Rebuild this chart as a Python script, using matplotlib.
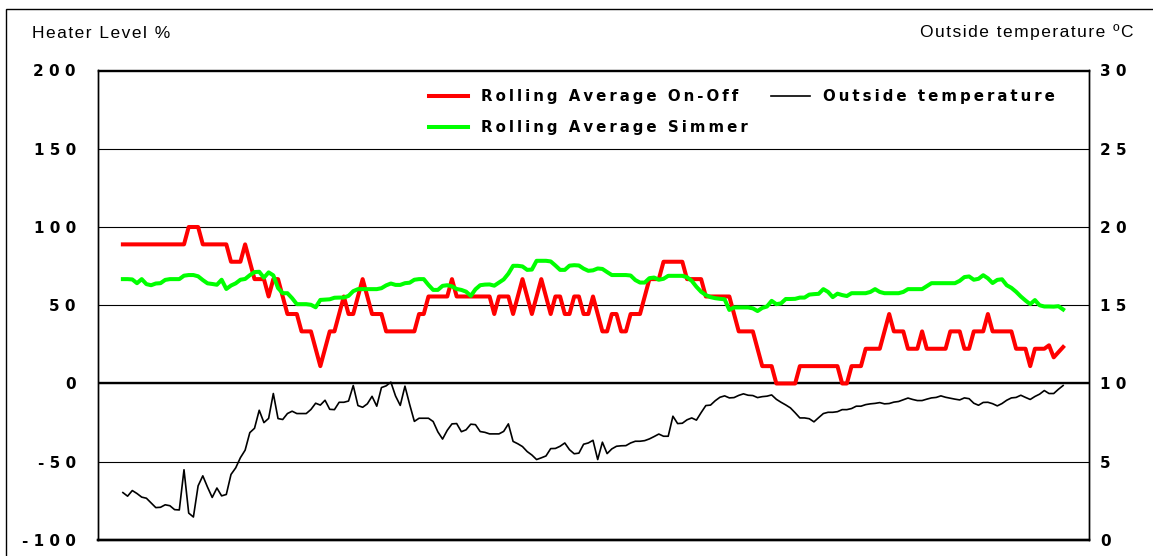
import numpy as np
import matplotlib
matplotlib.use('Agg')
import matplotlib.pyplot as plt
from matplotlib.patches import Rectangle
from matplotlib.lines import Line2D

# rolling average heater level, on-off control (%)
on_off = [
    88.9, 88.9, 88.9, 88.9, 88.9, 88.9, 88.9, 88.9, 88.9, 88.9,
    88.9, 88.9, 88.9, 88.9, 100, 100, 100, 88.9, 88.9, 88.9,
    88.9, 88.9, 88.9, 77.8, 77.8, 77.8, 88.9, 77.8, 66.7, 66.7,
    66.7, 55.6, 66.7, 66.7, 55.6, 44.4, 44.4, 44.4, 33.3, 33.3,
    33.3, 22.2, 11.1, 22.2, 33.3, 33.3, 44.4, 55.6, 44.4, 44.4,
    55.6, 66.7, 55.6, 44.4, 44.4, 44.4, 33.3, 33.3, 33.3, 33.3,
    33.3, 33.3, 33.3, 44.4, 44.4, 55.6, 55.6, 55.6, 55.6, 55.6,
    66.7, 55.6, 55.6, 55.6, 55.6, 55.6, 55.6, 55.6, 55.6, 44.4,
    55.6, 55.6, 55.6, 44.4, 55.6, 66.7, 55.6, 44.4, 55.6, 66.7,
    55.6, 44.4, 55.6, 55.6, 44.4, 44.4, 55.6, 55.6, 44.4, 44.4,
    55.6, 44.4, 33.3, 33.3, 44.4, 44.4, 33.3, 33.3, 44.4, 44.4,
    44.4, 55.6, 66.7, 66.7, 66.7, 77.8, 77.8, 77.8, 77.8, 77.8,
    66.7, 66.7, 66.7, 66.7, 55.6, 55.6, 55.6, 55.6, 55.6, 55.6,
    44.4, 33.3, 33.3, 33.3, 33.3, 22.2, 11.1, 11.1, 11.1, 0,
    0, 0, 0, 0, 11.1, 11.1, 11.1, 11.1, 11.1, 11.1,
    11.1, 11.1, 11.1, 0, 0, 11.1, 11.1, 11.1, 22.2, 22.2,
    22.2, 22.2, 33.3, 44.4, 33.3, 33.3, 33.3, 22.2, 22.2, 22.2,
    33.3, 22.2, 22.2, 22.2, 22.2, 22.2, 33.3, 33.3, 33.3, 22.2,
    22.2, 33.3, 33.3, 33.3, 44.4, 33.3, 33.3, 33.3, 33.3, 33.3,
    22.2, 22.2, 22.2, 11.1, 22.2, 22.2, 22.2, 24.4, 16.7, 20.0,
    23.3,
]

# rolling average heater level, simmer control (%)
simmer = [
    66.7, 66.7, 66.5, 64.1, 66.7, 63.5, 62.8, 63.9, 64.1, 66.2,
    66.7, 66.7, 66.7, 68.9, 69.3, 69.3, 68.5, 66.1, 64.0, 63.6,
    63.1, 66.3, 60.4, 62.6, 64.0, 66.3, 66.8, 69.2, 71.2, 71.4,
    67.6, 71.0, 69.1, 61.0, 57.7, 57.7, 54.5, 50.7, 50.7, 50.7,
    50.3, 48.7, 53.4, 53.6, 53.8, 54.8, 54.9, 54.9, 56.0, 59.0,
    60.3, 60.3, 60.3, 60.3, 60.3, 60.9, 62.7, 63.9, 63.0, 63.0,
    64.1, 64.4, 66.3, 66.7, 66.7, 63.0, 59.8, 59.8, 62.4, 62.8,
    62.1, 60.4, 59.8, 58.7, 56.0, 60.2, 62.8, 63.2, 63.3, 62.5,
    64.5, 66.5, 70.2, 75.2, 75.2, 74.8, 72.6, 72.8, 78.4, 78.4,
    78.4, 78.0, 75.4, 72.6, 72.6, 75.3, 75.6, 75.4, 73.4, 72.0,
    72.3, 73.5, 73.2, 71.2, 69.3, 69.3, 69.3, 69.3, 69.0, 66.1,
    64.5, 64.5, 67.3, 67.7, 66.3, 66.9, 68.8, 68.8, 68.8, 68.8,
    67.9, 65.6, 61.8, 58.6, 56.5, 55.2, 54.5, 54.1, 53.8, 47.0,
    48.6, 48.6, 48.6, 48.6, 48.0, 46.3, 48.3, 49.2, 52.8, 50.7,
    51.2, 54.0, 54.0, 54.1, 54.9, 54.9, 56.8, 57.1, 57.3, 60.3,
    58.5, 55.2, 57.4, 56.5, 55.9, 57.7, 57.7, 57.7, 57.7, 58.5,
    60.3, 58.5, 57.7, 57.7, 57.7, 57.7, 58.5, 60.3, 60.3, 60.3,
    60.3, 62.2, 64.1, 64.1, 64.1, 64.1, 64.1, 64.1, 65.6, 68.0,
    68.4, 66.3, 66.9, 69.2, 67.2, 64.2, 66.2, 66.6, 62.8, 61.1,
    58.6, 55.6, 53.0, 50.7, 53.3, 50.0, 49.2, 49.2, 49.1, 49.4,
    47.3,
]

# outside temperature (deg C)
outside = [
    3.03, 2.80, 3.16, 2.97, 2.74, 2.67, 2.37, 2.07, 2.09, 2.25,
    2.19, 1.94, 1.92, 4.49, 1.72, 1.47, 3.46, 4.10, 3.38, 2.72,
    3.32, 2.82, 2.91, 4.19, 4.61, 5.26, 5.74, 6.86, 7.14, 8.29,
    7.50, 7.77, 9.36, 7.76, 7.70, 8.08, 8.23, 8.08, 8.08, 8.08,
    8.34, 8.74, 8.62, 8.93, 8.35, 8.33, 8.80, 8.80, 8.88, 9.87,
    8.59, 8.48, 8.70, 9.18, 8.55, 9.74, 9.85, 10.09, 9.20, 8.60,
    9.83, 8.66, 7.58, 7.78, 7.78, 7.78, 7.57, 6.91, 6.45, 7.01,
    7.42, 7.44, 6.92, 7.04, 7.40, 7.37, 6.93, 6.88, 6.78, 6.78,
    6.78, 6.94, 7.42, 6.30, 6.15, 5.97, 5.65, 5.43, 5.14, 5.25,
    5.37, 5.84, 5.85, 5.99, 6.20, 5.77, 5.51, 5.55, 6.12, 6.20,
    6.37, 5.14, 6.25, 5.52, 5.82, 5.99, 6.02, 6.03, 6.20, 6.31,
    6.31, 6.35, 6.46, 6.61, 6.77, 6.63, 6.63, 7.91, 7.44, 7.46,
    7.68, 7.80, 7.66, 8.14, 8.59, 8.62, 8.90, 9.12, 9.21, 9.08,
    9.10, 9.24, 9.34, 9.25, 9.23, 9.10, 9.16, 9.19, 9.27, 8.99,
    8.80, 8.63, 8.44, 8.13, 7.80, 7.80, 7.75, 7.55, 7.82, 8.08,
    8.16, 8.16, 8.20, 8.33, 8.33, 8.40, 8.55, 8.55, 8.65, 8.70,
    8.73, 8.78, 8.70, 8.72, 8.81, 8.85, 8.96, 9.07, 8.98, 8.91,
    8.91, 9.00, 9.08, 9.11, 9.21, 9.12, 9.06, 9.00, 8.95, 9.08,
    9.03, 8.74, 8.61, 8.79, 8.80, 8.71, 8.57, 8.72, 8.93, 9.08,
    9.11, 9.25, 9.11, 8.98, 9.17, 9.32, 9.55, 9.36, 9.36, 9.63,
    9.87,
]

left_ticks = [-100, -50, 0, 50, 100, 150, 200]
right_ticks = [0, 5, 10, 15, 20, 25, 30]


def spaced(text, gap='\u2009'):
    # the original chart uses wide letter spacing
    return gap.join(text)


W, H = 1153, 556
fig = plt.figure(figsize=(W / 100, H / 100), dpi=100)

# outer chart frame (runs off the right and bottom of the image)
fig.add_artist(Rectangle((6 / W, -0.5), 2, 0.5 + 1 - 8.5 / H, transform=fig.transFigure,
                         fill=False, lw=1.0, edgecolor='black'))

ax = fig.add_axes([97.5 / W, 1 - 540 / H, (1088.5 - 97.5) / W, (540 - 70.5) / H])
ax2 = ax.twinx()

t = np.arange(len(on_off))
ax.plot(t, on_off, color='#ff0000', lw=2.9, zorder=3)
ax.plot(t, simmer, color='#00ff00', lw=2.9, zorder=3)
ax2.plot(t, outside, color='black', lw=1.2)

ax.set_xlim(-5.4, 205.4)
ax.set_xticks([])
ax.set_ylim(-100, 200)
ax.set_yticks(left_ticks)
ax2.set_ylim(0, 30)
ax2.set_yticks(right_ticks)

ax.yaxis.grid(True, color='black', lw=0.8)
ax.set_axisbelow(True)
ax.axhline(0, color='black', lw=1.7, zorder=1)

for a in (ax, ax2):
    for s in a.spines.values():
        s.set_color('black')
        s.set_linewidth(1.0)
ax.spines['bottom'].set_linewidth(1.7)
ax2.spines['bottom'].set_linewidth(1.7)

tick_font = dict(family='DejaVu Sans', weight='bold', size=11)
ax.set_yticklabels([spaced(str(v), ' ') for v in left_ticks], **tick_font)
ax2.set_yticklabels([spaced(str(v), ' ') for v in right_ticks], **tick_font)
ax.tick_params(axis='y', length=0, pad=15.5)
ax2.tick_params(axis='y', length=0, pad=8.3)

title_font = dict(family=['Liberation Sans', 'DejaVu Sans'], fontsize=12.5, va='baseline')
fig.text(32 / W, 1 - 37.5 / H, spaced('Heater Level %', '\u200a'), ha='left', **title_font)
fig.text(1133 / W, 1 - 37.5 / H, spaced('Outside temperature ºC', '\u200a'), ha='right',
         **title_font)

handles = [
    Line2D([], [], color='#ff0000', lw=2.9),
    Line2D([], [], color='#00ff00', lw=2.9),
    Line2D([], [], color='black', lw=1.2),
]
labels = [spaced('Rolling Average On-Off'), spaced('Rolling Average Simmer'),
          spaced('Outside temperature')]
ax2.legend(handles, labels, ncol=2, loc='upper left',
           bbox_to_anchor=(429 / W, 1 - 89 / H), bbox_transform=fig.transFigure,
           frameon=False, borderpad=0, borderaxespad=0,
           handlelength=2.6, handletextpad=0.87, columnspacing=1.53, labelspacing=1.05,
           prop=dict(family='DejaVu Sans', weight='bold', size=10.8))

fig.savefig('out.png', dpi=100)
